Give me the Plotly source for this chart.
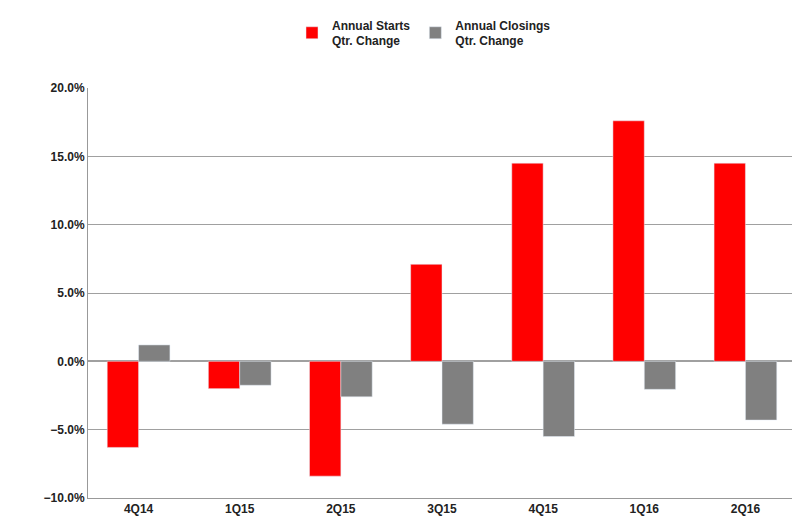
import plotly.graph_objects as go

quarters = ['4Q14', '1Q15', '2Q15', '3Q15', '4Q15', '1Q16', '2Q16']
starts = [-6.3, -2.0, -8.4, 7.1, 14.5, 17.6, 14.5]
closings = [1.2, -1.75, -2.6, -4.6, -5.5, -2.05, -4.3]

font = dict(family='Liberation Sans Narrow, Arial Narrow, sans-serif', size=12, color='#222')

fig = go.Figure()
fig.add_trace(go.Bar(x=quarters, y=[v / 100 for v in starts], name='<b>Annual Starts<br>Qtr. Change</b>',
                     marker_color='#ff0000'))
fig.add_trace(go.Bar(x=quarters, y=[v / 100 for v in closings], name='<b>Annual Closings<br>Qtr. Change</b>',
                     marker_color='#808080'))

fig.update_layout(
    width=800, height=531,
    paper_bgcolor='white', plot_bgcolor='white',
    font=font,
    barmode='group', bargap=0.38, bargroupgap=0,
    margin=dict(l=80, r=12, t=80, b=41, autoexpand=False),
    legend=dict(orientation='h', x=0.52, y=0.995, xref='container', yref='container',
                xanchor='center', yanchor='top', font=dict(size=12), itemwidth=30),
    xaxis=dict(showline=True, linecolor='#999', tickfont=dict(size=12), ticks=''),
    yaxis=dict(range=[-0.1, 0.2], dtick=0.05, tickformat='.1%', showgrid=True,
               gridcolor='#a0a0a0', zeroline=True, zerolinecolor='#a0a0a0',
               showline=True, linecolor='#999', tickfont=dict(size=12)),
)
fig.update_xaxes(tickprefix='<b>', ticksuffix='</b>')
fig.update_yaxes(tickprefix='<b>', ticksuffix='</b>')

fig.write_html('out.html')
